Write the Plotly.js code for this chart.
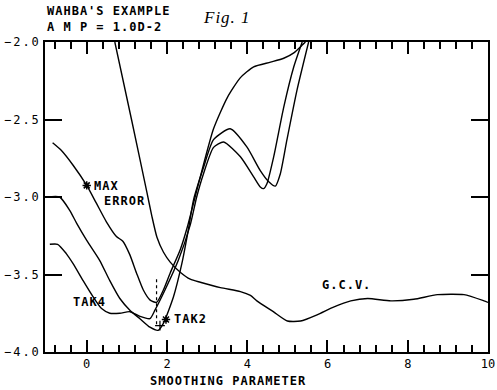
<!DOCTYPE html>
<html>
<head>
<meta charset="utf-8">
<script src="https://cdn.plot.ly/plotly-3.0.1.min.js"></script>
<style>
html,body{margin:0;padding:0;background:#fff;}
.ytick text {letter-spacing:2px;}
.annotation-text {letter-spacing:1px;}
</style>
</head>
<body>
<div id="chart" style="width:497px;height:390px;"></div>
<script>
// G.C.V. curve
const gcvX = [0.7, 1.12, 1.5, 1.62, 1.75, 1.91, 2.08, 2.33, 2.58, 2.83, 3.33, 3.83, 4.08, 4.24, 4.65, 5.0, 5.33, 5.74, 6.15, 6.58, 7.0, 7.58, 8.15, 8.74, 9.4, 9.9, 10];
const gcvY = [-2.0, -2.505, -2.97, -3.12, -3.26, -3.355, -3.42, -3.485, -3.53, -3.55, -3.585, -3.61, -3.635, -3.67, -3.74, -3.80, -3.80, -3.76, -3.71, -3.67, -3.655, -3.67, -3.66, -3.63, -3.63, -3.67, -3.68];
// MAX ERROR curve
const maxX = [-0.85, -0.63, -0.34, 0.0, 0.24, 0.49, 0.74, 0.9, 1.07, 1.24, 1.41, 1.58, 1.74, 1.91, 2.08, 2.33, 2.5, 2.83, 3.16, 3.5, 3.83, 4.16, 4.58, 4.91, 5.16, 5.37, 5.45];
const maxY = [-2.65, -2.70, -2.795, -2.925, -3.04, -3.16, -3.255, -3.285, -3.37, -3.49, -3.60, -3.665, -3.68, -3.60, -3.49, -3.34, -3.2, -2.87, -2.56, -2.36, -2.23, -2.16, -2.13, -2.105, -2.07, -2.02, -2.0];
// TAK2 curve
const tak2X = [-0.98, -0.675, -0.425, -0.25, 0.0, 0.325, 0.575, 0.825, 1.075, 1.325, 1.575, 1.78, 1.91, 2.16, 2.37, 2.53, 2.66, 2.91, 3.16, 3.575, 3.99, 4.325, 4.53, 4.7, 4.825, 4.99, 5.24, 5.53];
const tak2Y = [-3.0, -3.0, -3.086, -3.17, -3.28, -3.41, -3.54, -3.655, -3.73, -3.785, -3.84, -3.86, -3.815, -3.645, -3.43, -3.215, -3.02, -2.81, -2.63, -2.56, -2.677, -2.83, -2.90, -2.93, -2.85, -2.63, -2.31, -2.0];
// TAK4 curve
const tak4X = [-0.92, -0.725, -0.51, -0.34, -0.09, 0.16, 0.37, 0.575, 0.825, 1.075, 1.325, 1.575, 1.70, 1.95, 2.28, 2.58, 2.74, 2.91, 3.16, 3.41, 3.83, 4.16, 4.325, 4.41, 4.49, 4.66, 4.91, 5.16, 5.37];
const tak4Y = [-3.305, -3.305, -3.365, -3.43, -3.54, -3.645, -3.72, -3.75, -3.75, -3.74, -3.77, -3.785, -3.73, -3.60, -3.41, -3.18, -3.0, -2.85, -2.68, -2.645, -2.74, -2.87, -2.935, -2.946, -2.915, -2.74, -2.42, -2.16, -2.0];
// dotted marker line and points
const dashX = [1.74, 1.74];
const dashY = [-3.53, -3.84];
const plusX = [1.825];
const plusY = [-3.83];
const starX = [0.0, 1.975];
const starY = [-2.925, -3.79];
// labels
const labelText = ["MAX", "ERROR", "TAK4", "TAK2", "G.C.V."];
const labelX = [0.12, 0.37, -0.38, 2.12, 5.825];
const labelY = [-2.926, -3.025, -3.677, -3.79, -3.566];
const titleLines = ["WAHBA'S EXAMPLE", "A M P = 1.0D-2"];
const xTitle = "SMOOTHING PARAMETER";

const FONT = "DejaVu Sans Mono";
const lineStyle = {color: "#000", width: 1.4, shape: "spline", smoothing: 0.6};
const traces = [
  {x: gcvX, y: gcvY, mode: "lines", line: lineStyle},
  {x: maxX, y: maxY, mode: "lines", line: lineStyle},
  {x: tak2X, y: tak2Y, mode: "lines", line: lineStyle},
  {x: tak4X, y: tak4Y, mode: "lines", line: lineStyle},
  {x: dashX, y: dashY, mode: "lines", line: {color: "#000", width: 1.2, dash: "dot"}},
  {x: plusX, y: plusY, mode: "markers", marker: {symbol: "cross-thin", size: 7, line: {color: "#000", width: 1.2}}},
  {x: starX, y: starY, mode: "markers", marker: {symbol: "asterisk", size: 7, line: {color: "#000", width: 1.5}}}
];

const annotations = labelText.map((t, i) => ({
  x: labelX[i], y: labelY[i], xref: "x", yref: "y", text: t, showarrow: false,
  xanchor: "left", yanchor: "middle", font: {family: FONT, size: 12, color: "#000", weight: "bold"}
}));
annotations.push({x: 0, y: 1.099, xref: "paper", yref: "paper", text: titleLines[0], showarrow: false,
  xanchor: "left", yanchor: "middle", font: {family: FONT, size: 12, color: "#000", weight: "bold"}});
annotations.push({x: 0, y: 1.047, xref: "paper", yref: "paper", text: titleLines[1], showarrow: false,
  xanchor: "left", yanchor: "middle", font: {family: FONT, size: 12, color: "#000", weight: "bold"}});
annotations.push({x: 0.414, y: -0.095, xref: "paper", yref: "paper", text: xTitle, showarrow: false,
  xanchor: "center", yanchor: "middle", font: {family: FONT, size: 12, color: "#000", weight: "bold"}});
annotations.push({x: 0.41, y: 1.08, xref: "paper", yref: "paper", text: "Fig. 1", showarrow: false,
  xanchor: "center", yanchor: "middle", font: {family: "Liberation Serif", size: 17, color: "#000", style: "italic"}});

const layout = {
  width: 497, height: 390,
  margin: {l: 45, r: 9, t: 42, b: 38},
  plot_bgcolor: "rgba(0,0,0,0)",
  showlegend: false,
  xaxis: {
    showgrid: false, zeroline: false, showline: true, linecolor: "#000", linewidth: 1.5,
    mirror: "ticks", ticks: "inside", ticklen: 12, tickwidth: 1.5, tickcolor: "#000",
    range: [-1.04, 10], tickmode: "linear", tick0: 0, dtick: 2,
    minor: {dtick: 0.4, ticks: "inside", ticklen: 7},
    tickfont: {family: FONT, size: 12, color: "#000"}
  },
  yaxis: {
    showgrid: false, zeroline: false, showline: true, linecolor: "#000", linewidth: 1.5,
    mirror: "ticks", ticks: "inside", ticklen: 17, tickwidth: 1.5, tickcolor: "#000",
    range: [-4, -2], tickmode: "linear", tick0: -4, dtick: 0.5, tickformat: ".1f",
    tickfont: {family: FONT, size: 12, color: "#000"}
  },
  annotations: annotations
};
Plotly.newPlot("chart", traces, layout, {displayModeBar: false}).then(function () {
  document.querySelectorAll("g.xaxislayer-above, g.yaxislayer-above").forEach(function (g) {
    g.parentNode.appendChild(g);
  });
});
</script>
</body>
</html>
